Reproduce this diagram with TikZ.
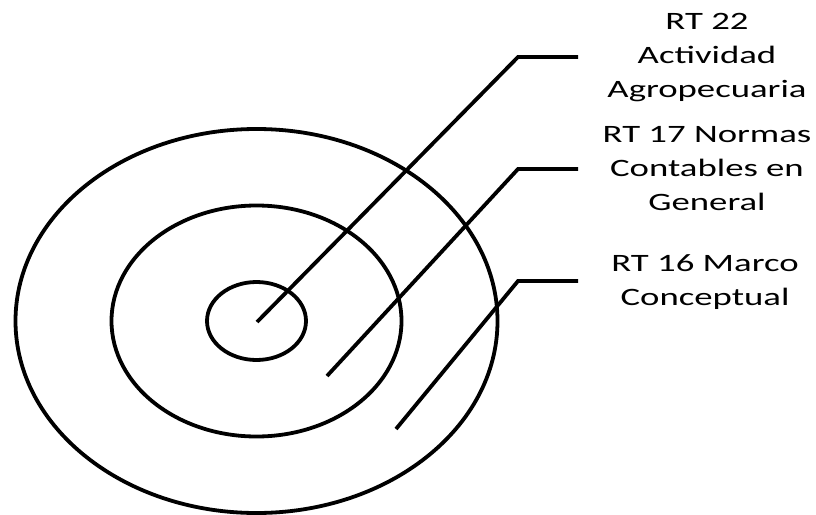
\documentclass[tikz,border=0pt]{standalone}
\usepackage{fontspec}
\setmainfont{Carlito}
\usetikzlibrary{positioning}

\begin{document}
\begin{tikzpicture}[
  x=1pt, y=-1pt,
  ring/.style={line width=3.8pt},
  lead/.style={line width=3.8pt},
  lbl/.style={align=center, anchor=base, xscale=1.47, inner sep=0pt,
              font=\fontsize{25}{34}\selectfont}
]
\useasboundingbox (0,0) rectangle (816,514);
\coordinate (c) at (256.5,321);
\draw[ring] (c) ellipse [x radius=241, y radius=192];
\draw[ring] (c) ellipse [x radius=145, y radius=115.5];
\draw[ring] (c) ellipse [x radius=49.5, y radius=39];
\coordinate (p22) at (257,322);
\coordinate (k22) at (518,57);
\coordinate (e22) at (578,57);
\coordinate (p17) at (327,376);
\coordinate (k17) at (518,169);
\coordinate (e17) at (578,169);
\coordinate (p16) at (396,429);
\coordinate (k16) at (518,281);
\coordinate (e16) at (578,281);
\draw[lead] (p22) -- (k22) -- (e22);
\draw[lead] (p17) -- (k17) -- (e17);
\draw[lead] (p16) -- (k16) -- (e16);
% base anchor = baseline of the last line
\node[lbl] (t22) at (707,97) {RT 22\\Actividad\\Agropecuaria};
\node[lbl] (t17) at (707,210) {RT 17 Normas\\Contables en\\General};
\node[lbl] (t16) at (705,305) {RT 16 Marco\\Conceptual};
\end{tikzpicture}
\end{document}
